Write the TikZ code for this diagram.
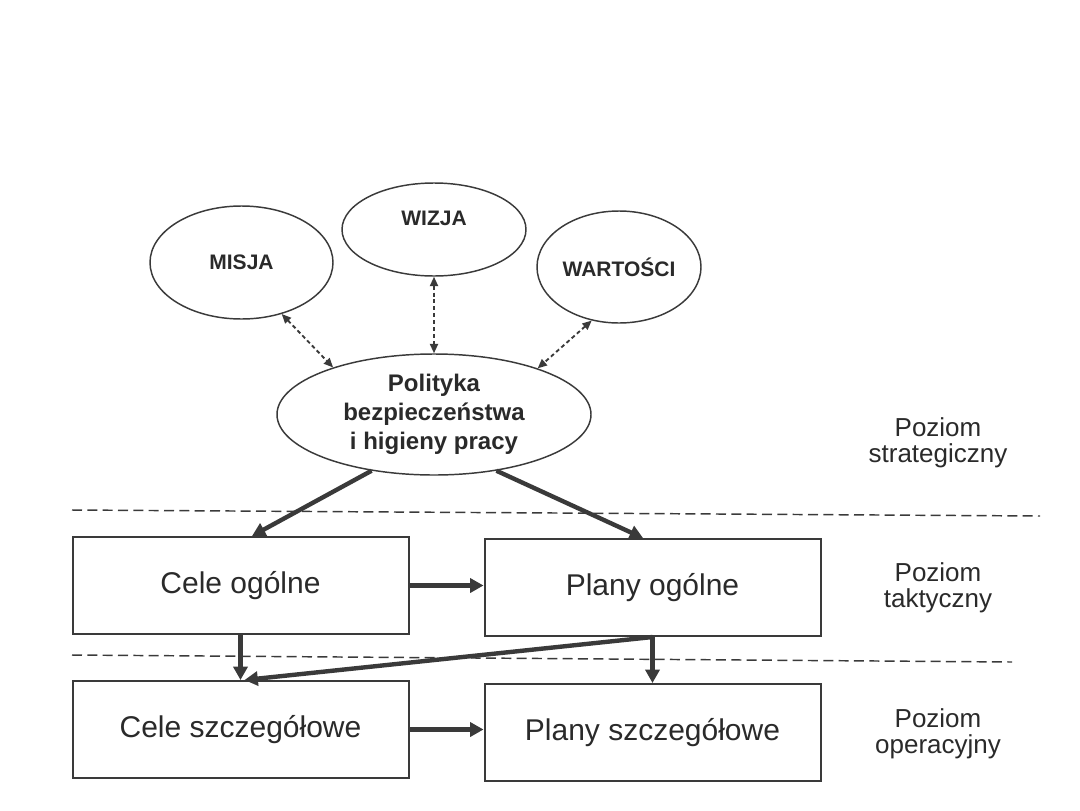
\documentclass[tikz,border=0pt]{standalone}
\usepackage{fontspec}
\setmainfont{Liberation Sans}
\usetikzlibrary{arrows.meta,calc,shapes.geometric}
\definecolor{ink}{HTML}{3A3A3A}
\definecolor{txt}{HTML}{2A2A2A}
\begin{document}
\begin{tikzpicture}[x=0.75pt,y=-0.75pt,
  ell/.style={ellipse, draw=ink, line width=1.1pt, inner sep=0pt, text=txt},
  elltext/.style={font=\bfseries\fontsize{15.75}{18}\selectfont},
  box/.style={rectangle, draw=ink, line width=1.5pt, minimum width=252pt, minimum height=72.75pt, inner sep=0pt, text=txt, font=\fontsize{22.5}{27}\selectfont},
  bigarrow/.style={draw=ink, line width=3.3pt, -{Triangle[length=10pt,width=10.5pt]}},
  link/.style={draw=ink, line width=1.4pt, dash pattern=on 3pt off 2.2pt, {Triangle[length=7pt,width=6pt]}-{Triangle[length=7pt,width=6pt]}},
  divider/.style={draw=ink, line width=1.1pt, dash pattern=on 7.5pt off 4pt},
  level/.style={align=center, text=txt, font=\fontsize{19.5}{19.5}\selectfont, inner sep=0pt}
]
\useasboundingbox (0,0) rectangle (1080,810);

% ellipses
\node[ell, elltext, minimum width=137.25pt, minimum height=84.75pt] (misja) at (241.5,262.5) {MISJA};
\node[ell, minimum width=138pt, minimum height=69.75pt,
      label={[elltext, text=txt, yshift=8.6pt]center:WIZJA}] (wizja) at (434,229.5) {};
\node[ell, elltext, minimum width=123pt, minimum height=84pt] (wart) at (619,267) {WARTOŚCI};
\node[ell, align=center, font=\bfseries\fontsize{18}{21.75}\selectfont, minimum width=235.5pt, minimum height=90.75pt] (pol) at (434,414.5) {Polityka\\bezpieczeństwa\\i higieny pracy};

% dotted links
\draw[link] (misja.-52) -- (pol.155);
\draw[link] (wizja.south) -- (pol.north);
\draw[link] (wart.243) -- (pol.24);

% dividers
\coordinate (d1l) at (72,510);
\coordinate (d1r) at (1040,516);
\coordinate (d2l) at (72,655);
\coordinate (d2r) at (1012,662);
\draw[divider] (d1l) -- (d1r);
\draw[divider] (d2l) -- (d2r);

% boxes
\node[box] (c1) at (240.5,585.5) {Cele ogólne};
\node[box] (p1) at (652.5,587.5) {Plany ogólne};
\node[box] (c2) at (240.5,729.5) {Cele szczegółowe};
\node[box] (p2) at (652.5,732.5) {Plany szczegółowe};

% thick arrows
\draw[bigarrow] (pol.222) -- ($(c1.north west)!0.534!(c1.north east)$);
\draw[bigarrow] (pol.318) -- ($(p1.north west)!0.472!(p1.north east)$);
\draw[bigarrow] (c1.east) -- (c1.east -| p1.west);
\draw[bigarrow] (c2.east) -- (c2.east -| p2.west);
\draw[bigarrow] (c1.south) -- (c2.north);
\draw[bigarrow] (p1.south) -- (p2.north);
\draw[bigarrow] (p1.south) -- ($(c2.north)+(4,0)$);

% level labels
\node[level] (lstrat) at (938,443) {Poziom\\strategiczny};
\node[level] (ltakt) at (938,588) {Poziom\\taktyczny};
\node[level] (loper) at (938,734) {Poziom\\operacyjny};
\end{tikzpicture}
\end{document}
